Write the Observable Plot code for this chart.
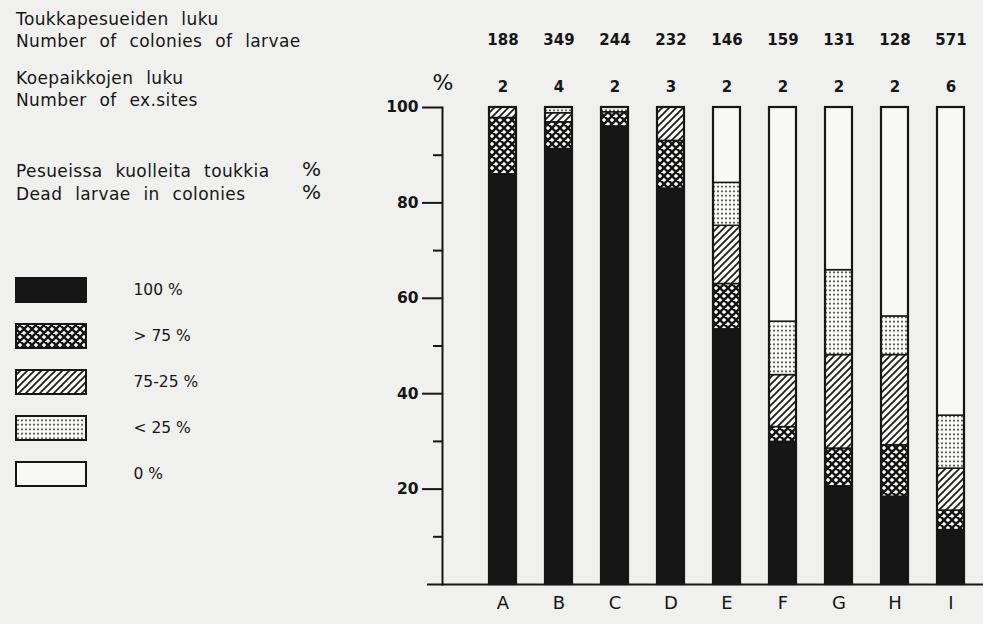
<!DOCTYPE html>
<html><head><meta charset="utf-8">
<script src="https://cdn.jsdelivr.net/npm/d3@7"></script>
<script src="https://cdn.jsdelivr.net/npm/@observablehq/plot@0.6"></script>
<style>
html,body{margin:0;padding:0;background:#f0f0ee;}
#wrap{position:relative;width:983px;height:624px;overflow:hidden;font-family:"DejaVu Sans",sans-serif;color:#161616;}
.t{position:absolute;left:16px;font-size:17px;line-height:17px;white-space:nowrap;word-spacing:7px;letter-spacing:0.4px;}
#chart,#legend{position:absolute;top:0;left:0;}
#legend{top:265px;}
</style></head><body>
<svg width="0" height="0" style="position:absolute">
<defs>
<pattern id="pCross" patternUnits="userSpaceOnUse" width="8" height="8">
<rect width="8" height="8" fill="#f8f8f6"/>
<path d="M-2,2L2,-2M0,8L8,0M6,10L10,6M-2,6L2,10M0,0L8,8M6,-2L10,2" stroke="#161616" stroke-width="2.4"/>
</pattern>
<pattern id="pDiag" patternUnits="userSpaceOnUse" width="7" height="7">
<rect width="7" height="7" fill="#f8f8f6"/>
<path d="M-2,2L2,-2M0,7L7,0M5,9L9,5" stroke="#161616" stroke-width="1.6"/>
</pattern>
<pattern id="pDots" patternUnits="userSpaceOnUse" width="4" height="4.5">
<rect width="4" height="4.5" fill="#f8f8f6"/>
<circle cx="2" cy="2.2" r="0.9" fill="#161616"/>
</pattern>
</defs>
</svg>
<div id="wrap">
<div id="chart"></div>
<div id="legend"></div>
<div class="t" style="top:11px">Toukkapesueiden luku</div>
<div class="t" style="top:33px">Number of colonies of larvae</div>
<div class="t" style="top:70px">Koepaikkojen luku</div>
<div class="t" style="top:92px">Number of ex.sites</div>
<div class="t" style="top:163px">Pesueissa kuolleita toukkia</div>
<div class="t" style="top:186px">Dead larvae in colonies</div>
<div class="t" style="top:161px;left:302px;font-size:20px">%</div>
<div class="t" style="top:184px;left:302px;font-size:20px">%</div>
</div>
<script>
const sites = ["A","B","C","D","E","F","G","H","I"];
const colonies = [188,349,244,232,146,159,131,128,571];
const exSites = [2,4,2,3,2,2,2,2,6];
const classes = ["100 %","> 75 %","75-25 %","< 25 %","0 %"];
const dead100    = [86.0, 91.3, 96.0, 83.0, 53.5, 29.9, 20.6, 18.4, 11.4];
const deadOver75 = [11.8,  5.6,  3.0, 10.0,  9.5,  3.1,  7.9, 10.8,  4.1];
const dead75to25 = [ 2.2,  1.9,  0.0,  7.0, 12.2, 10.9, 19.6, 18.9,  8.8];
const deadUnder25= [ 0.0,  1.2,  1.0,  0.0,  9.0, 11.2, 17.8,  8.1, 11.1];
const dead0      = [ 0.0,  0.0,  0.0,  0.0, 15.8, 44.9, 34.1, 43.8, 64.6];
const yMajor = [20,40,60,80,100];
const yMinor = [10,30,50,70,90];

const INK = "#161616";
const series = [dead100, deadOver75, dead75to25, deadUnder25, dead0];
const fills = [INK, "url(#pCross)", "url(#pDiag)", "url(#pDots)", "#f8f8f6"];
const rows = [];
sites.forEach((s, i) => classes.forEach((c, j) => {
  if (series[j][i] > 0) rows.push({site: s, cls: c, value: series[j][i], fill: fills[j]});
}));
const totals = sites.map((s, i) => ({site: s, total: d3.sum(series, a => a[i])}));
const heads = sites.map((s, i) => ({site: s, colonies: colonies[i], exSites: exSites[i]}));

const chart = Plot.plot({
  width: 983, height: 624,
  marginLeft: 442, marginRight: 0, marginTop: 107, marginBottom: 40,
  style: {background: "transparent", fontFamily: "DejaVu Sans, sans-serif", color: INK},
  x: {domain: sites, range: [486.5, 966.3], paddingInner: 0.523, paddingOuter: 0, axis: null},
  y: {domain: [0, 100], axis: null},
  color: {type: "identity"},
  marks: [
    Plot.barY(rows, {x: "site", y: "value", fill: "fill", stroke: INK, strokeWidth: 1.5}),
    Plot.barY(totals, {x: "site", y: "total", fill: "none", stroke: INK, strokeWidth: 2.2}),
    Plot.ruleY([0], {insetLeft: -15, stroke: INK, strokeWidth: 2}),
    Plot.frame({anchor: "left", stroke: INK, strokeWidth: 2}),
    Plot.axisY({ticks: yMajor, tickSize: 20, tickPadding: 4, fontSize: 15.5, fontWeight: "bold", label: null, strokeWidth: 2}),
    Plot.axisY({ticks: yMinor, tickSize: 9, tickFormat: () => "", label: null, strokeWidth: 2}),
    Plot.axisX({tickSize: 0, tickPadding: 12, fontSize: 18, label: null}),
    Plot.text(heads, {x: "site", text: "colonies", frameAnchor: "top", lineAnchor: "middle", dy: -67, fontSize: 15, fontWeight: "bold"}),
    Plot.text(heads, {x: "site", text: "exSites", frameAnchor: "top", lineAnchor: "middle", dy: -20, fontSize: 15, fontWeight: "bold"}),
    Plot.text(["%"], {text: d => d, frameAnchor: "top-left", lineAnchor: "middle", dx: -10, dy: -25, fontSize: 22, textAnchor: "start"})
  ]
});
document.getElementById("chart").append(chart);

const legend = Plot.plot({
  width: 260, height: 240,
  marginLeft: 16, marginRight: 174, marginTop: 0, marginBottom: 0,
  style: {background: "transparent", fontFamily: "DejaVu Sans, sans-serif", color: INK},
  y: {domain: classes, range: [11.9, 222.1], paddingInner: 0.48, paddingOuter: 0, axis: null},
  color: {type: "identity"},
  marks: [
    Plot.cell(classes, {y: d => d, fill: (d, i) => fills[i], stroke: INK, strokeWidth: 2}),
    Plot.text(classes, {y: d => d, text: d => d, frameAnchor: "right", dx: 47, textAnchor: "start", fontSize: 15.5})
  ]
});
document.getElementById("legend").append(legend);
</script>
</body></html>
